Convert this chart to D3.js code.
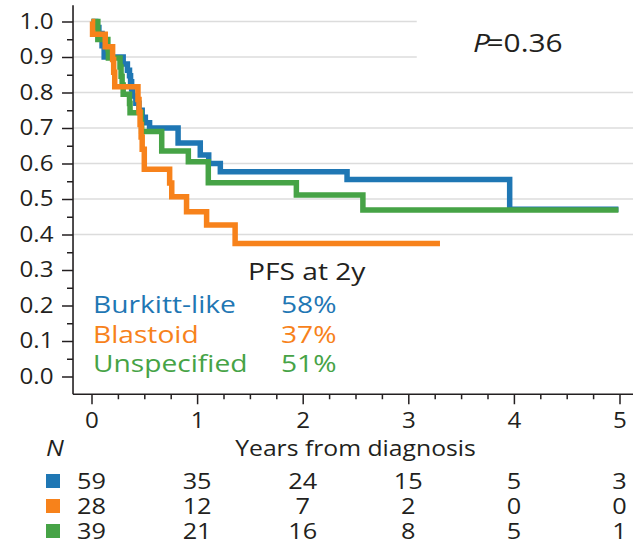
<!DOCTYPE html>
<html>
<head>
<meta charset="utf-8">
<script src="https://cdn.jsdelivr.net/npm/d3@7"></script>
<style>
body { margin: 0; background: #fff; }
text { font-family: "Open Sans", sans-serif; font-weight: 500; }
</style>
</head>
<body>
<div id="chart"></div>
<script>
// data
var years = [0, 1, 2, 3, 4, 5];
var groups = ["Burkitt-like", "Blastoid", "Unspecified"];
var pfs2y = ["58%", "37%", "51%"];
var atRisk = [
  [59, 35, 24, 15, 5, 3],
  [28, 12, 7, 2, 0, 0],
  [39, 21, 16, 8, 5, 1]
];
var pLabel = "0.36";

var burkittTime = [0, 0.04, 0.07, 0.10, 0.12, 0.30, 0.34, 0.36, 0.37, 0.38, 0.39, 0.42, 0.45, 0.48, 0.51, 0.55, 0.82, 1.03, 1.11, 1.22, 2.42, 3.96, 4.99];
var burkittSurv = [1, 0.983, 0.966, 0.932, 0.90, 0.88, 0.863, 0.847, 0.83, 0.81, 0.79, 0.77, 0.75, 0.73, 0.715, 0.70, 0.658, 0.624, 0.60, 0.577, 0.555, 0.471, 0.471];

var blastoidTime = [0, 0.01, 0.13, 0.20, 0.21, 0.22, 0.44, 0.45, 0.46, 0.47, 0.48, 0.50, 0.74, 0.76, 0.90, 1.09, 1.36, 3.30];
var blastoidSurv = [1, 0.964, 0.929, 0.893, 0.857, 0.816, 0.78, 0.745, 0.71, 0.675, 0.64, 0.584, 0.545, 0.506, 0.464, 0.427, 0.375, 0.375];

var unspecTime = [0, 0.06, 0.155, 0.16, 0.27, 0.28, 0.29, 0.30, 0.36, 0.365, 0.47, 0.475, 0.665, 0.917, 1.106, 1.94, 2.57, 4.99];
var unspecSurv = [1, 0.949, 0.923, 0.897, 0.872, 0.846, 0.821, 0.795, 0.769, 0.743, 0.717, 0.69, 0.635, 0.605, 0.546, 0.511, 0.469, 0.469];

var colors = ["#1f77b4", "#f7821b", "#46a346"];
var ink = "#231f20";
var SX = 1.15; // text in the figure is a little stretched sideways

var width = 633, height = 542;

var x = d3.scaleLinear().domain([0, 5]).range([91.5, 619.5]);
var y = d3.scaleLinear().domain([0, 1]).range([376.5, 21.5]);
var X0 = x(-0.175), X1 = width;
var Y0 = y(-0.05), Ytop = y(1.046);

var svg = d3.select("#chart").append("svg")
  .attr("width", width)
  .attr("height", height);

function label(px, py, str, size, color, anchor) {
  return svg.append("text")
    .attr("transform", "translate(" + px + "," + py + ") scale(" + SX + ",1)")
    .attr("font-size", size)
    .attr("text-anchor", anchor || "start")
    .style("fill", color || ink)
    .text(str);
}

// gridlines
svg.append("g").selectAll("line")
  .data(d3.range(4, 11).map(function (d) { return d / 10; }))
  .enter().append("line")
  .attr("x1", X0).attr("x2", X1)
  .attr("y1", function (d) { return y(d); })
  .attr("y2", function (d) { return y(d); })
  .attr("stroke", "#dcdcdc")
  .attr("stroke-width", 1.5);

// white box behind the P value
svg.append("rect")
  .attr("x", x(3.08)).attr("y", 0)
  .attr("width", width - x(3.08)).attr("height", y(0.85))
  .attr("fill", "#fff");

// curves
var line = d3.line()
  .x(function (d) { return x(d[0]); })
  .y(function (d) { return y(d[1]); })
  .curve(d3.curveStepAfter);

var series = [
  { t: burkittTime, s: burkittSurv, c: colors[0] },
  { t: unspecTime, s: unspecSurv, c: colors[2] },
  { t: blastoidTime, s: blastoidSurv, c: colors[1] }
];
svg.append("g").selectAll("path")
  .data(series)
  .enter().append("path")
  .attr("d", function (d) { return line(d3.zip(d.t, d.s)); })
  .attr("fill", "none")
  .attr("stroke", function (d) { return d.c; })
  .attr("stroke-width", 5.5)
  .attr("stroke-linejoin", "miter");

// y axis
var yAxis = svg.append("g")
  .attr("transform", "translate(" + X0 + ",0)")
  .call(d3.axisLeft(y)
    .tickValues(d3.range(0, 11).map(function (d) { return d / 10; }))
    .tickSize(11).tickPadding(6)
    .tickFormat(d3.format(".1f")));
yAxis.select(".domain").remove();
yAxis.selectAll("text")
  .attr("font-size", 21)
  .style("fill", ink)
  .attr("transform", "scale(" + SX + ",1)");
svg.append("g")
  .attr("transform", "translate(" + X0 + ",0)")
  .call(d3.axisLeft(y)
    .tickValues(d3.range(0, 10).map(function (d) { return d / 10 + 0.05; }))
    .tickSize(6).tickFormat(""))
  .select(".domain").remove();

// x axis
var xAxis = svg.append("g")
  .attr("transform", "translate(0," + Y0 + ")")
  .call(d3.axisBottom(x).tickValues(years).tickSize(10).tickPadding(9)
    .tickFormat(d3.format("d")));
xAxis.select(".domain").remove();
xAxis.selectAll("text")
  .attr("font-size", 21)
  .style("fill", ink)
  .attr("transform", "scale(" + SX + ",1)");
svg.append("g")
  .attr("transform", "translate(0," + Y0 + ")")
  .call(d3.axisBottom(x)
    .tickValues(d3.range(0, 20).map(function (d) { return d / 4; }).filter(function (d) { return d % 1 !== 0; }))
    .tickSize(5).tickFormat(""))
  .select(".domain").remove();

svg.selectAll(".tick line").attr("stroke", ink).attr("stroke-width", 1.5);

// spines
svg.append("line")
  .attr("x1", X0).attr("x2", X0).attr("y1", Ytop).attr("y2", Y0)
  .attr("stroke", ink).attr("stroke-width", 1.6);
svg.append("line")
  .attr("x1", X0).attr("x2", X1).attr("y1", Y0).attr("y2", Y0)
  .attr("stroke", ink).attr("stroke-width", 1.6);

// P value
var pText = label(473, 52, "", 26);
pText.append("tspan").attr("font-style", "italic").text("P");
pText.append("tspan").attr("dx", -3).text("=" + pLabel);

// legend
label(248, 280, "PFS at 2y", 24.5);
groups.forEach(function (g, i) {
  label(93, 313 + i * 29.5, g, 24.5, colors[i]);
  label(281, 313 + i * 29.5, pfs2y[i], 24.5, colors[i]);
});

// axis title
label((x(0) + x(5)) / 2, 456, "Years from diagnosis", 21.5, ink, "middle");

// numbers at risk
label(46, 456, "N", 22).attr("font-style", "italic");
atRisk.forEach(function (row, i) {
  var by = 489 + i * 25;
  svg.append("rect")
    .attr("x", 46).attr("y", by - 15)
    .attr("width", 14).attr("height", 14)
    .attr("fill", colors[i]);
  row.forEach(function (n, j) {
    label(x(years[j]), by, n, 22, ink, "middle");
  });
});
</script>
</body>
</html>
